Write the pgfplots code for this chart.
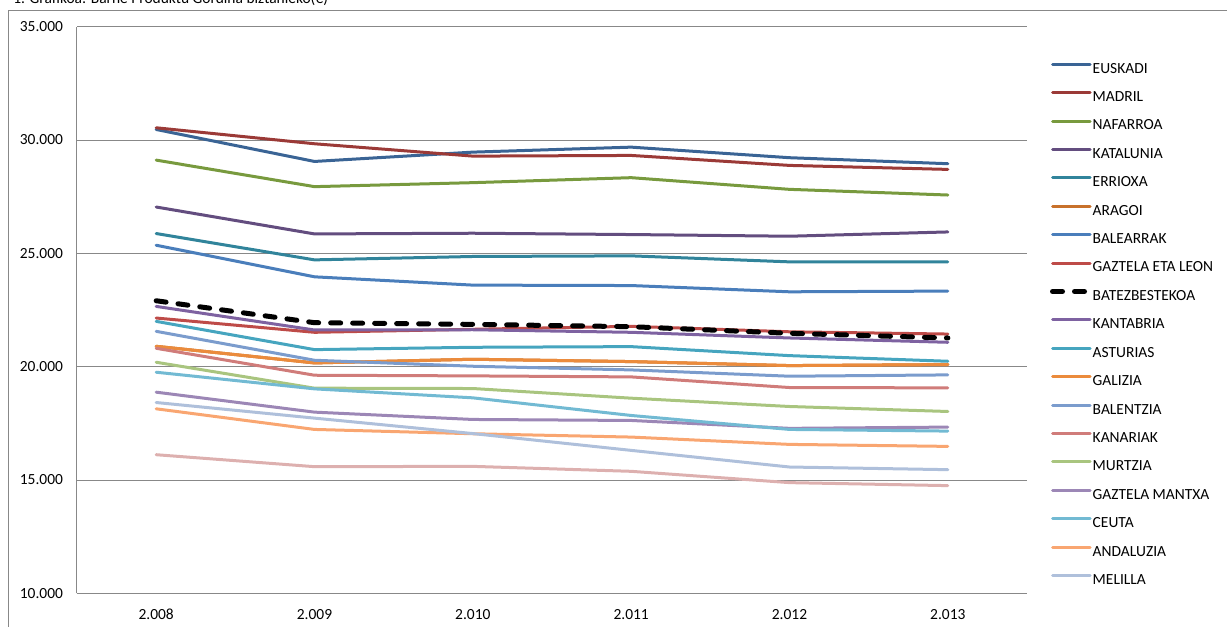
\documentclass[border=0pt]{standalone}
\usepackage{pgfplots}
\pgfplotsset{compat=1.18}
\usepackage{fontspec}
\setmainfont{Carlito}

\definecolor{cEus}{HTML}{3A6495}
\definecolor{cMad}{HTML}{9B3A37}
\definecolor{cNaf}{HTML}{789A3E}
\definecolor{cKat}{HTML}{634D7F}
\definecolor{cErr}{HTML}{31849B}
\definecolor{cAra}{HTML}{C8712B}
\definecolor{cBal}{HTML}{4A7EBB}
\definecolor{cGaz}{HTML}{BE4B48}
\definecolor{cKan}{HTML}{7E62A1}
\definecolor{cAst}{HTML}{46A5BF}
\definecolor{cGal}{HTML}{EB8B3C}
\definecolor{cBln}{HTML}{7B9CCD}
\definecolor{cKnr}{HTML}{D07C7A}
\definecolor{cMur}{HTML}{A9C57F}
\definecolor{cGzm}{HTML}{9C87B6}
\definecolor{cCeu}{HTML}{72BAD3}
\definecolor{cAnd}{HTML}{F9A671}
\definecolor{cMel}{HTML}{AFC0DB}
\definecolor{cExt}{HTML}{DDB0AF}
\definecolor{frame}{HTML}{888888}

\begin{document}
\begin{tikzpicture}
\begin{scope}[x=0.75pt,y=0.75pt]
\useasboundingbox (0,0) rectangle (1227,627);
\draw[frame, line width=0.75pt] (8,-2) -- (8,616) -- (1230,616);
\node[anchor=base west, inner sep=0pt, font=\fontsize{11.6}{14}\selectfont] at (13,623.5)
  {1. Grafikoa: Barne Produktu Gordina biztanleko(€)};
\end{scope}

\begin{axis}[
  at={(57.75pt,450.225pt)}, anchor=north west,
  scale only axis, width=712.5pt, height=425pt,
  xmin=-0.5, xmax=5.5, ymin=10000, ymax=35000,
  axis x line*=bottom, axis y line*=left,
  axis line style={-, draw=frame, line width=0.75pt},
  xtick={0,1,2,3,4,5},
  xticklabels={2.008,2.009,2.010,2.011,2.012,2.013},
  ytick={10000,15000,20000,25000,30000,35000},
  yticklabels={10.000,15.000,20.000,25.000,30.000,35.000},
  scaled y ticks=false,
  major tick length=0pt,
  ymajorgrids=true,
  grid style={draw=frame, line width=0.75pt},
  tick label style={font=\fontsize{11.6}{14}\selectfont},
  yticklabel style={xshift=-7pt},
  xticklabel style={yshift=-8.5pt},
  every axis plot/.append style={line width=2.25pt, line join=round, line cap=round},
  legend image code/.code={\draw[#1] (1.2pt,3.7pt) -- (29.5pt,3.7pt);},
  legend cell align=left,
  legend style={draw=none, fill=none, at={(1.0242,0.938)}, anchor=north west,
    inner sep=0pt, outer sep=0pt, row sep=10.3pt,
    font=\fontsize{11.6}{14}\selectfont,
    nodes={inner sep=0pt, text height=8.5pt, text depth=2.5pt},
    /tikz/every even column/.append style={column sep=2.5pt}},
]
\addplot[cEus] coordinates {(0,30465) (1,29055) (2,29466) (3,29686) (4,29220) (5,28955)};
\addplot[cMad] coordinates {(0,30540) (1,29835) (2,29290) (3,29320) (4,28880) (5,28704)};
\addplot[cNaf] coordinates {(0,29114) (1,27943) (2,28119) (3,28339) (4,27824) (5,27574)};
\addplot[cKat] coordinates {(0,27045) (1,25857) (2,25888) (3,25830) (4,25756) (5,25945)};
\addplot[cErr] coordinates {(0,25874) (1,24713) (2,24862) (3,24890) (4,24625) (5,24625)};
\addplot[cAra] coordinates {(0,20900) (1,20166) (2,20328) (3,20225) (4,20049) (5,20093)};
\addplot[cBal] coordinates {(0,25359) (1,23965) (2,23599) (3,23580) (4,23304) (5,23335)};
\addplot[cGaz] coordinates {(0,22147) (1,21517) (2,21650) (3,21780) (4,21540) (5,21440)};
\addplot[black, line width=3.75pt, dash pattern=on 7.5pt off 9pt] coordinates {(0,22909) (1,21941) (2,21868) (3,21765) (4,21473) (5,21267)};
\addplot[cKan] coordinates {(0,22660) (1,21619) (2,21630) (3,21517) (4,21267) (5,21077)};
\addplot[cAst] coordinates {(0,22000) (1,20753) (2,20856) (3,20885) (4,20488) (5,20240)};
\addplot[cGal] coordinates {(0,20900) (1,20166) (2,20328) (3,20225) (4,20049) (5,20093)};
\addplot[cBln] coordinates {(0,21560) (1,20284) (2,20020) (3,19858) (4,19580) (5,19638)};
\addplot[cKnr] coordinates {(0,20812) (1,19623) (2,19594) (3,19550) (4,19081) (5,19066)};
\addplot[cMur] coordinates {(0,20196) (1,19052) (2,19037) (3,18611) (4,18244) (5,18024)};
\addplot[cGzm] coordinates {(0,18876) (1,17995) (2,17672) (3,17628) (4,17280) (5,17335)};
\addplot[cCeu] coordinates {(0,19756) (1,19022) (2,18626) (3,17848) (4,17232) (5,17159)};
\addplot[cAnd] coordinates {(0,18142) (1,17232) (2,17042) (3,16895) (4,16572) (5,16484)};
\addplot[cMel] coordinates {(0,18420) (1,17731) (2,17050) (3,16308) (4,15574) (5,15457)};
\addplot[cExt, forget plot] coordinates {(0,16117) (1,15589) (2,15603) (3,15384) (4,14885) (5,14753)};
\legend{EUSKADI, MADRIL, NAFARROA, KATALUNIA, ERRIOXA, ARAGOI, BALEARRAK, GAZTELA ETA LEON, BATEZBESTEKOA, KANTABRIA, ASTURIAS, GALIZIA, BALENTZIA, KANARIAK, MURTZIA, GAZTELA MANTXA, CEUTA, ANDALUZIA, MELILLA}
\end{axis}
\end{tikzpicture}
\end{document}
